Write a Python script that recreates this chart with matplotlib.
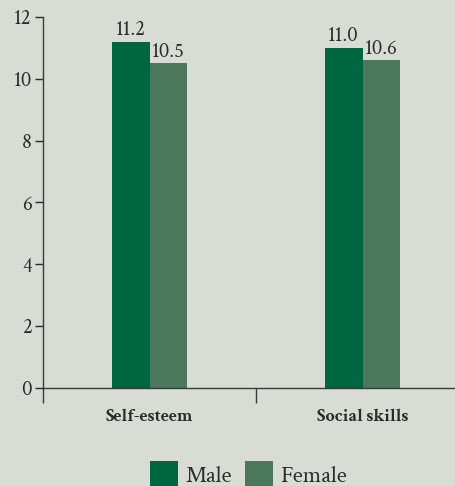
import matplotlib.pyplot as plt
from matplotlib.patches import Patch
import numpy as np

# data
categories = ["Self-esteem", "Social skills"]
male = [11.2, 11.0]
female = [10.5, 10.6]
series_names = ["Male", "Female"]
y_ticks = [0, 2, 4, 6, 8, 10, 12]

bg = "#d9dbd5"
male_color = "#006541"
female_color = "#4b785a"
text_color = "#2b2b2b"
fam = ['Crimson Text', 'Liberation Serif', 'DejaVu Serif']

plt.rcParams['font.family'] = fam

fig = plt.figure(figsize=(4.55, 4.86), dpi=100, facecolor=bg)
# axes run past the right edge, as in the original
ax = fig.add_axes([43 / 455, 1 - 388 / 486, 426 / 455, (388 - 17) / 486])
ax.set_facecolor(bg)

x = np.arange(len(categories))
w = 0.178
bars_m = ax.bar(x - w / 2, male, w, color=male_color)
bars_f = ax.bar(x + w / 2, female, w, color=female_color)

# value labels above bars
for bars, vals in [(bars_m, male), (bars_f, female)]:
    for b, v in zip(bars, vals):
        ax.text(b.get_x() + b.get_width() / 2, v + 0.05, f"{v:.1f}", family=fam,
                ha='center', va='bottom', fontsize=15, color=text_color)

ax.set_xlim(-0.5, len(categories) - 0.5)
ax.set_ylim(0, 12)
ax.set_yticks(y_ticks)
ax.set_yticklabels([str(t) for t in y_ticks], family=fam, fontsize=15)
ax.tick_params(axis='y', direction='out', length=6, width=1, colors=text_color, pad=2)

# category labels with no major tick, boundary ticks hanging below
ax.set_xticks(x)
ax.set_xticklabels(categories, fontweight='bold', fontsize=13, family=fam)
ax.tick_params(axis='x', which='major', length=0, pad=15, colors=text_color)
ax.set_xticks(np.arange(-0.5, len(categories), 1.0), minor=True)
ax.tick_params(axis='x', which='minor', direction='out', length=10.5, width=1,
               color="#3a3a3a")

for s in ['top', 'right']:
    ax.spines[s].set_visible(False)
for s in ['left', 'bottom']:
    ax.spines[s].set_color("#3a3a3a")
    ax.spines[s].set_linewidth(1)

handles = [Patch(facecolor=male_color), Patch(facecolor=female_color)]
fig.legend(handles, series_names, loc='lower center', bbox_to_anchor=(0.546, -0.045),
           ncol=2, frameon=False, handlelength=1.2, handleheight=1.3,
           prop={'family': fam, 'size': 17},
           handletextpad=0.3, columnspacing=0.55, labelcolor=text_color)

fig.savefig("out.png", dpi=100, facecolor=bg)
